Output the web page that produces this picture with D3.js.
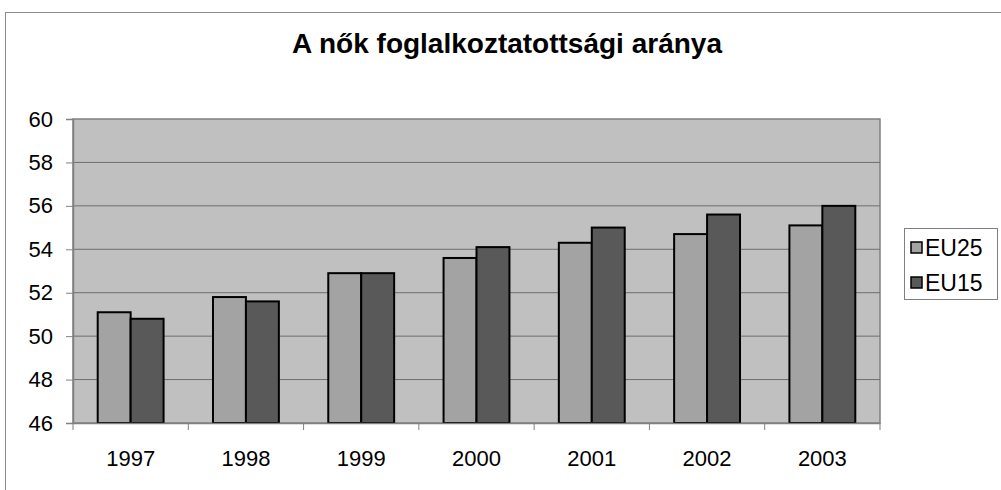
<!DOCTYPE html>
<html>
<head>
<meta charset="utf-8">
<script src="https://cdn.jsdelivr.net/npm/d3@7"></script>
<style>
  body { margin: 0; background: #fff; }
  svg { display: block; font-family: "Liberation Sans", Arial, sans-serif; }
</style>
</head>
<body>
<div id="chart"></div>
<script>
const svgWidth = 1001;
const svgHeight = 490;

// data
const years = ["1997", "1998", "1999", "2000", "2001", "2002", "2003"];
const eu25 = [51.1, 51.8, 52.9, 53.6, 54.3, 54.7, 55.1];
const eu15 = [50.8, 51.6, 52.9, 54.1, 55.0, 55.6, 56.0];
const seriesNames = ["EU25", "EU15"];
const seriesColors = ["#a3a3a3", "#595959"];
const yTicks = [46, 48, 50, 52, 54, 56, 58, 60];

const plot = { left: 73, top: 119, right: 880, bottom: 423 };

const svg = d3.select("#chart")
  .append("svg")
  .attr("width", svgWidth)
  .attr("height", svgHeight);

// outer chart frame
svg.append("rect")
  .attr("x", 5.5).attr("y", 12.5)
  .attr("width", 1010).attr("height", 500)
  .attr("fill", "#fff")
  .attr("stroke", "#8c8c8c");

svg.append("text")
  .attr("x", 507).attr("y", 53)
  .attr("text-anchor", "middle")
  .attr("font-size", 28)
  .attr("font-weight", "bold")
  .text("A nők foglalkoztatottsági aránya");

const x = d3.scaleBand()
  .domain(years)
  .range([plot.left, plot.right]);

// Excel style: gap width 150% -> 0.75 of a bar on each side
const xInner = d3.scaleBand()
  .domain(seriesNames)
  .range([0, x.bandwidth()])
  .paddingOuter(0.75)
  .paddingInner(0);

const y = d3.scaleLinear()
  .domain([46, 60])
  .range([plot.bottom, plot.top]);

// plot background
svg.append("rect")
  .attr("x", plot.left).attr("y", plot.top)
  .attr("width", plot.right - plot.left)
  .attr("height", plot.bottom - plot.top)
  .attr("fill", "#c0c0c0")
  .attr("stroke", "#808080")
  .attr("stroke-width", 1.5);

// gridlines
svg.append("g")
  .selectAll("line")
  .data(yTicks.slice(1, -1))
  .join("line")
  .attr("x1", plot.left).attr("x2", plot.right)
  .attr("y1", d => y(d)).attr("y2", d => y(d))
  .attr("stroke", "#6e6e6e")
  .attr("stroke-width", 1);

// bars
const rows = years.map((yr, i) => ({ year: yr, values: [eu25[i], eu15[i]] }));

const groups = svg.append("g")
  .selectAll("g")
  .data(rows)
  .join("g")
  .attr("transform", d => `translate(${x(d.year)},0)`);

groups.selectAll("rect")
  .data(d => d.values.map((v, j) => ({ name: seriesNames[j], value: v, color: seriesColors[j] })))
  .join("rect")
  .attr("x", d => xInner(d.name))
  .attr("y", d => y(d.value))
  .attr("width", xInner.bandwidth())
  .attr("height", d => y(46) - y(d.value))
  .attr("fill", d => d.color)
  .attr("stroke", "#000")
  .attr("stroke-width", 2);

// y axis
const yAxis = svg.append("g")
  .attr("transform", `translate(${plot.left},0)`)
  .call(d3.axisLeft(y).tickValues(yTicks).tickSize(7).tickPadding(13));
yAxis.select(".domain").attr("stroke", "#808080").attr("stroke-width", 1.5);
yAxis.selectAll(".tick line").attr("stroke", "#808080");
yAxis.attr("font-size", 22).attr("font-family", "Liberation Sans, Arial, sans-serif");
yAxis.selectAll("text").attr("fill", "#000");

// x axis
const xAxis = svg.append("g")
  .attr("transform", `translate(0,${plot.bottom})`)
  .call(d3.axisBottom(x).tickSize(0).tickPadding(27));
xAxis.select(".domain").attr("stroke", "#808080").attr("stroke-width", 1.5);
xAxis.attr("font-size", 22).attr("font-family", "Liberation Sans, Arial, sans-serif");
xAxis.selectAll("text").attr("fill", "#000");

// category boundary ticks
xAxis.append("g")
  .selectAll("line")
  .data(years.concat(["end"]))
  .join("line")
  .attr("x1", d => d === "end" ? plot.right : x(d))
  .attr("x2", d => d === "end" ? plot.right : x(d))
  .attr("y1", 0).attr("y2", 7)
  .attr("stroke", "#808080");

// legend
const legend = svg.append("g");
legend.append("rect")
  .attr("x", 904.5).attr("y", 228.5)
  .attr("width", 93).attr("height", 71)
  .attr("fill", "#fff")
  .attr("stroke", "#808080");

const items = legend.selectAll("g.item")
  .data(seriesNames)
  .join("g")
  .attr("class", "item")
  .attr("transform", (d, i) => `translate(911,${242 + i * 35})`);

items.append("rect")
  .attr("width", 11).attr("height", 11)
  .attr("fill", (d, i) => seriesColors[i])
  .attr("stroke", "#000")
  .attr("stroke-width", 1.5);

items.append("text")
  .attr("x", 14).attr("y", 14)
  .attr("font-size", 23)
  .text(d => d);
</script>
</body>
</html>
